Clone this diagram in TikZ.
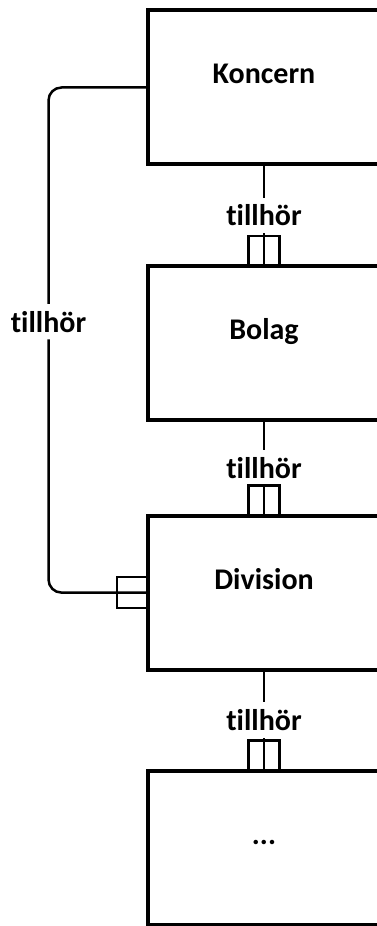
\documentclass[tikz,border=0pt]{standalone}
\usepackage{fontspec}
\setmainfont{Carlito}[Ligatures={TeX,NoCommon}]
\usepackage{tikz}
\newcommand{\tillhor}{t\kern0pt{}illhör}

\begin{document}
\begin{tikzpicture}[x=1pt, y=1pt,
    entity/.style={draw, line width=4pt, fill=white, outer sep=0pt,
      minimum width=232pt, minimum height=154pt,
      text height=12pt, text depth=19pt,
      font=\fontsize{30}{35}\selectfont\bfseries},
    conn/.style={line width=2.5pt},
    lab/.style={fill=white, inner xsep=2pt, inner ysep=7pt,
      font=\fontsize{30}{35}\selectfont\bfseries},
    onemark/.style={line width=2.5pt}]
    \useasboundingbox (0,0) rectangle (376,926);

    % entities, top to bottom
    \node[entity] (koncern)  at (264,838.5) {Koncern};
    \node[entity] (bolag)    at (264,583)   {Bolag};
    \node[entity] (division) at (264,333.4) {Division};
    \node[entity] (dots)     at (264,78.4)  {...};

    % chain of tillhör relations
    \foreach \a/\b in {koncern/bolag,bolag/division,division/dots}
      \draw[conn] (\a) -- node[lab] {\tillhor} (\b);
    \foreach \n in {bolag,division,dots}
      \draw[onemark] ([xshift=-15.5pt]\n.north) rectangle ++(31pt,30pt);

    % Koncern directly to Division, round on the left
    \coordinate (leftx) at (48.5,0);
    \draw[conn, rounded corners=13pt] (koncern.west) -- (koncern.west -| leftx)
      -- node[lab, pos=0.464] {\tillhor} (division.west -| leftx) -- (division.west);
    \draw[onemark] ([yshift=-15.5pt]division.west) rectangle ++(-31pt,31pt);
  \end{tikzpicture}
\end{document}
